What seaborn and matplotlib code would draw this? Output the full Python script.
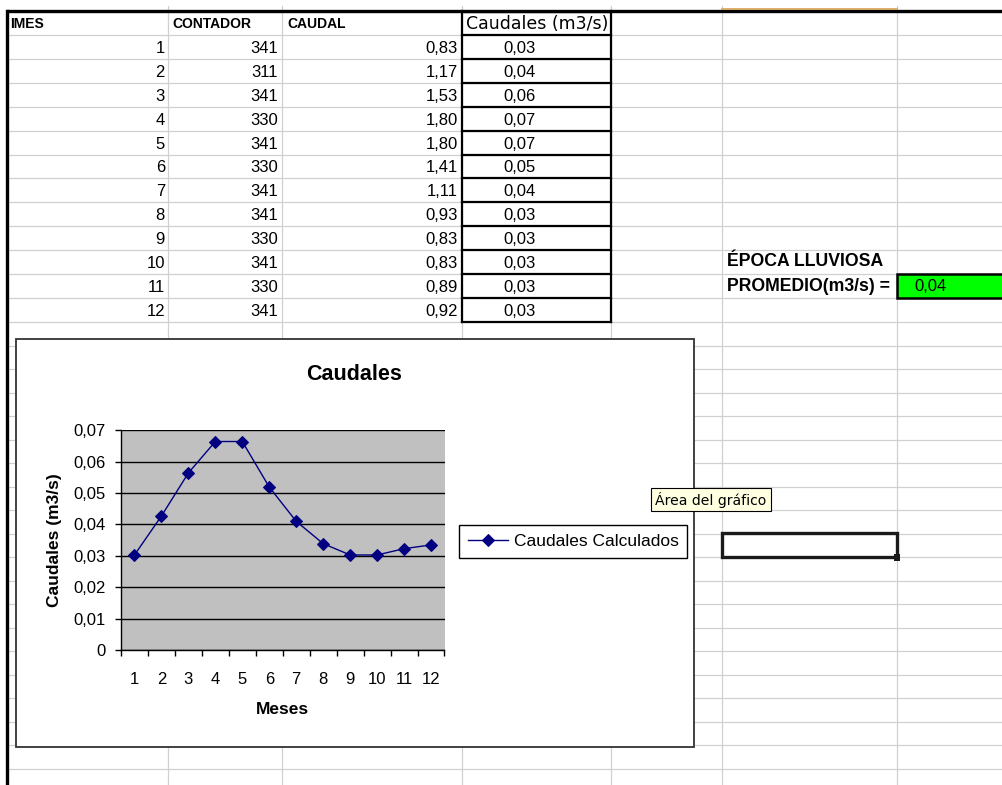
import numpy as np
import pandas as pd
import matplotlib
matplotlib.use("Agg")
import matplotlib.pyplot as plt
import seaborn as sns
from matplotlib.patches import Rectangle
from matplotlib.ticker import FixedLocator, FuncFormatter, NullFormatter

# ---------------- data ----------------
meses = list(range(1, 13))
contador = [341, 311, 341, 330, 341, 330, 341, 341, 330, 341, 330, 341]
caudal = [0.83, 1.17, 1.53, 1.80, 1.80, 1.41, 1.11, 0.93, 0.83, 0.83, 0.89, 0.92]
caudales_tabla = [0.03, 0.04, 0.06, 0.07, 0.07, 0.05, 0.04, 0.03, 0.03, 0.03, 0.03, 0.03]
caudales_calc = [0.0303, 0.0427, 0.0564, 0.0664, 0.0664, 0.0519, 0.0410,
                 0.0339, 0.0303, 0.0303, 0.0323, 0.0335]
y_ticks = [0, 0.01, 0.02, 0.03, 0.04, 0.05, 0.06, 0.07]
promedio = 0.04
serie = "Caudales Calculados"

plt.rcParams['font.family'] = ['Liberation Sans', 'DejaVu Sans']

def coma(v, d=2):
    return f"{v:.{d}f}".replace('.', ',')

W, H = 1003, 785
fig = plt.figure(figsize=(W / 100, H / 100), dpi=100)
bg = fig.add_axes([0, 0, 1, 1], zorder=0)
bg.set_xlim(0, W)
bg.set_ylim(H, 0)
bg.axis('off')

GRID = '#d0d0d0'
top_rows = [11.5 + 23.85 * k for k in range(14)]
low_rows = [322.3 + 23.5 * k for k in range(1, 20)]
rows = top_rows + low_rows
cols = [168, 282, 462, 611, 722, 897]

for y in rows:
    bg.plot([8, W], [y, y], color=GRID, lw=0.9, zorder=1)
for x in cols:
    bg.plot([x, x], [6, H], color=GRID, lw=0.9, zorder=1)

# orange line at top
bg.plot([722, 897], [9.0, 9.0], color='#d9a050', lw=1.2, zorder=5)
# thick borders
bg.plot([8, W], [11, 11], color='black', lw=2.4, zorder=4)
bg.plot([7.5, 7.5], [11, H], color='black', lw=2.4, zorder=4)
for y in top_rows:
    bg.plot([462, 611], [y, y], color='black', lw=1.6, zorder=3)
for x in (462, 611):
    bg.plot([x, x], [11, top_rows[-1]], color='black', lw=1.6, zorder=3)

# header texts
hdr_base = top_rows[1] - 7
bg.text(10, hdr_base, "IMES", fontsize=10, fontweight='bold', va='baseline', zorder=5)
bg.text(172, hdr_base, "CONTADOR", fontsize=10, fontweight='bold', va='baseline', zorder=5)
bg.text(287, hdr_base, "CAUDAL", fontsize=10, fontweight='bold', va='baseline', zorder=5)
bg.text(466, hdr_base + 1, "Caudales (m3/s)", fontsize=12.5, family=['DejaVu Sans'],
        va='baseline', zorder=5)

for i in range(12):
    base = top_rows[i + 2] - 6
    bg.text(165, base, str(meses[i]), fontsize=12, ha='right', va='baseline', zorder=5)
    bg.text(278, base, str(contador[i]), fontsize=12, ha='right', va='baseline', zorder=5)
    bg.text(458, base, coma(caudal[i]), fontsize=12, ha='right', va='baseline', zorder=5)
    bg.text(503, base, coma(caudales_tabla[i]), fontsize=12, ha='left', va='baseline', zorder=5)

# promedio
bg.text(727, top_rows[11] - 8, "ÉPOCA LLUVIOSA", fontsize=12.7, fontweight='bold',
        va='baseline', zorder=5)
bg.text(727, top_rows[12] - 7, "PROMEDIO(m3/s) =", fontsize=12.7, fontweight='bold',
        va='baseline', zorder=5)
bg.add_patch(Rectangle((897, top_rows[11]), W - 897 + 5, top_rows[12] - top_rows[11],
                       facecolor='#00ff00', edgecolor='black', lw=1.8, zorder=5))
bg.text(914, top_rows[12] - 7, coma(promedio), fontsize=12, va='baseline', zorder=6)

# selected cell
bg.add_patch(Rectangle((722, 533.3), 897 - 722, 557.3 - 533.3, facecolor='none',
                       edgecolor='#1a1a1a', lw=2.4, zorder=5))
bg.add_patch(Rectangle((894, 554.3), 6.5, 6.5, facecolor='#1a1a1a', edgecolor='none', zorder=6))

# chart area
bg.add_patch(Rectangle((15.6, 339), 694 - 15.6, 747 - 339, facecolor='white',
                       edgecolor='#333333', lw=1.3, zorder=7))
bg.text(354, 375, "Caudales", fontsize=15.5, fontweight='bold', ha='center',
        va='center', zorder=8)

# tooltip
bg.add_patch(Rectangle((651, 487.7), 771 - 651, 510.7 - 487.7, facecolor='#ffffe1',
                       edgecolor='black', lw=0.8, zorder=9))
bg.text(655, 499.5, "Área del gráfico", fontsize=10.1, family=['DejaVu Sans'],
        va='center', zorder=10)

# ---------------- chart ----------------
L, R, T, B = 121, 444.5, 430.2, 650.2
ax = fig.add_axes([L / W, 1 - B / H, (R - L) / W, (B - T) / H], zorder=2)
ax.set_facecolor('#c0c0c0')

df = pd.DataFrame({"Meses": meses, "Caudal": caudales_calc, "Serie": serie})
sns.lineplot(data=df, x="Meses", y="Caudal", hue="Serie", palette=['#000080'],
             marker='D', markersize=6, markeredgecolor='#000080', lw=1,
             ax=ax, zorder=3)

ax.set_xlim(0.5, 12.5)
ax.set_ylim(0, 0.07)
ax.yaxis.set_major_locator(FixedLocator(y_ticks))
ax.yaxis.set_major_formatter(FuncFormatter(lambda v, p: "0" if v == 0 else coma(v)))
ax.grid(axis='y', color='black', lw=1)
ax.grid(axis='x', visible=False)
ax.set_axisbelow(True)

ax.xaxis.set_major_locator(FixedLocator(np.arange(0.5, 13, 1)))
ax.xaxis.set_major_formatter(NullFormatter())
ax.xaxis.set_minor_locator(FixedLocator(meses))
ax.xaxis.set_minor_formatter(FuncFormatter(lambda v, p: str(int(round(v)))))
ax.tick_params(axis='x', which='major', length=4, width=1, color='black', direction='out')
ax.tick_params(axis='x', which='minor', length=0, pad=15.5, labelsize=12)
ax.tick_params(axis='y', which='major', length=4, width=1, color='black',
               direction='out', pad=7, labelsize=12)

for s in ('top', 'right'):
    ax.spines[s].set_visible(False)
for s in ('left', 'bottom'):
    ax.spines[s].set_color('black')
    ax.spines[s].set_linewidth(1)

ax.set_xlabel("Meses", fontsize=12.5, fontweight='bold')
ax.set_ylabel("Caudales (m3/s)", fontsize=12.5, fontweight='bold')
ax.xaxis.set_label_coords(0.5, -(702 - B) / (B - T))
ax.yaxis.set_label_coords(-(L - 62) / (R - L), (B - 540) / (B - T))

leg = ax.legend(loc='upper left', bbox_to_anchor=(459 / W, 1 - 525 / H),
                bbox_transform=fig.transFigure, frameon=True, fancybox=False,
                fontsize=12.5, handlelength=2.3, handletextpad=0.35,
                borderpad=0.5, borderaxespad=0, title=None)
leg.get_frame().set_edgecolor('black')
leg.get_frame().set_linewidth(1)
leg.get_frame().set_facecolor('white')
leg.get_frame().set_alpha(1)

fig.savefig("out.png", dpi=100)
